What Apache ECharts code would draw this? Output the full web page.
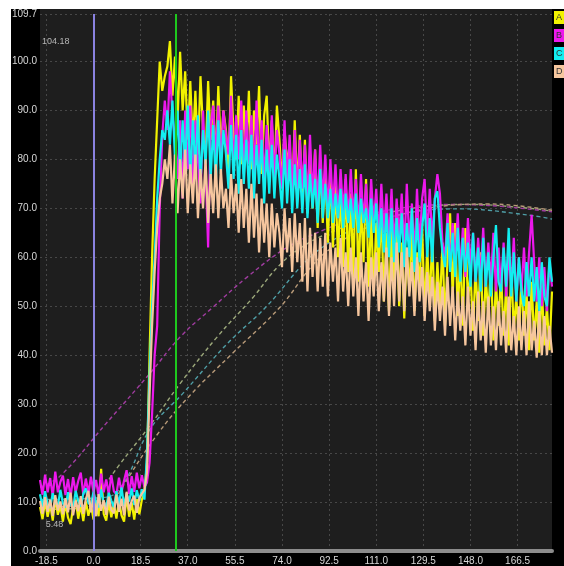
<!DOCTYPE html>
<html><head><meta charset="utf-8">
<script src="https://cdn.jsdelivr.net/npm/echarts@6/dist/echarts.min.js"></script>
<style>html,body{margin:0;padding:0;background:#fff}#c{width:564px;height:566px}</style>
</head><body><div id="c"></div>
<script>
// sampling grid of the traces
const xStart = -21, xStep = 1;
const seriesNames = ['A', 'B', 'C', 'D'];
const seriesColors = ['#f2f200', '#ec18ec', '#12eef0', '#f6c69e'];
const avgColors = ['#9ca87a', '#a03ca0', '#4f9ea6', '#b89a78'];

const valuesA = [
 9.0,6.5,10.2,7.0,9.5,6.2,10.8,7.4,9.2,6.0,
 9.8,6.8,5.48,8.9,10.5,6.6,9.4,6.1,10.1,7.2,
 9.5,6.4,10.3,7.1,16.8,7.6,6.2,10.0,6.9,9.7,
 6.6,10.4,7.3,6.0,11.2,7.0,9.9,6.4,10.6,7.5,
 10.5,12.0,18,40,60,76,88,100,94,97,
 99,104.18,93,101,88,102,90,98,84,96,
 83,94,81,97,86,80,96,84,92,79,
 95,82,90,86,78,97,85,80,93,79,
 91,81,94,78,90,83,95,77,89,93,
 78,88,76,91,84,75,86,79,83,72,
 88,74,85,71,84,69,81,70,82,66,
 79,67,78,63,77,62,75,60,74,58,
 76,57,73,56,78,55,71,59,76,54,
 69,53,67,57,70,51,65,49,66,55,
 68,50,63,47.5,62,53,66,49,61,54,
 67,48,62,51,64,47,59,50,63,46,
 60,69,52,67,48,61,46,66,51,57,
 45,58,47,61,44,56,48,59,43,55,
 46,57,44,54,42,58,45,52,43,56,
 44,53,41,55,43,51,40.5,54,42,50,
 41,53];

const valuesB = [
 14.5,11.5,15.6,12.0,14.9,11.2,16.2,12.0,14.1,15.4,
 11.4,14.7,11.0,15.1,12.0,14.3,16.0,11.5,14.8,11.8,
 15.2,12.0,14.5,11.3,15.8,12.0,14.6,11.6,15.5,12.2,
 11.6,15.0,12.0,14.4,16.5,11.6,15.3,12.1,16.0,12.8,
 15.5,13.0,14.0,18,28,40,46,70,85,92,
 86,98,89,84,76,88,72,90,78,91,
 74,88,80,71,90,78,62,87,91,80,
 91,79,90,85,81,93,78,89,80,92,
 77,90,79,89,76,92,78,88,75,87,
 77,89,76,86,81,74,88,75,85,73,
 86,72,84,74,83,71,85,72,82,70,
 83,71,81,69,80,70,79,68,78,69,
 77,67,78,68,76,66,77,67,75,65,
 76,67,74,64,75,65,73,63,74,62,
 72,64,73,61,75,63,71,60,74,62,
 72,76,64,74,63,72,77,73,63,60,
 69,58,67,59,69,57,66,56,68,58,
 65,55,64,56,66,54,63,55,65,53,
 62,54,63,52,61,54,64,51,60,53,
 62,52,61,68.7,59,51,60,50,58,49,
 59,54];

const valuesC = [
 11.6,9.0,12.2,9.5,8.8,11.8,10.0,9.2,12.5,9.7,
 8.9,12.0,9.6,8.7,12.3,10.2,9.1,11.7,12.8,9.8,
 9.3,12.1,10.0,8.9,12.6,9.7,9.0,11.9,10.3,8.9,
 12.2,9.5,13.0,9.2,11.8,10.1,12.8,9.4,12.4,10.3,
 12.6,10.5,20,36,50,60,72,80,86,84,
 90,83,92,80,90,77,88,79,91,76,
 88,78,89,75,86,79,90,76,87,75,
 88,77,86,81,74,87,76,85,73,86,
 75,84,74,85,72,83,75,84,71,82,
 73,83,72,81,76,70,82,71,80,69,
 79,70,78,69,79,68,77,70,76,67,
 78,68,75,68,74,67,73,68,74,66,
 73,67,72,66,73,65,72,67,70,64,
 72,65,71,62,70,61,69,60,70,59,
 68,61,69,58,67,60,70,57,68,59,
 66,71,60,68,59,72,73.5,66,61,58,
 67,57,65,56,66,55,64,57,63,54,
 65,55,62,53,64,54,61,52,60,66.6,
 55,53,62,54,66,52,61,51,60,53,
 50,59,52,60,51,58,49,59,52,50,
 60,55];

const valuesD = [
 10.2,7.6,11.0,8.0,10.5,7.2,11.4,8.3,10.1,7.5,
 10.8,7.9,11.9,7.3,10.3,8.1,11.2,7.6,10.6,12.3,
 7.9,10.9,7.1,11.6,8.2,10.4,7.4,11.1,8.4,7.7,
 11.5,8.0,10.7,7.3,12.1,8.3,10.2,11.3,7.8,10.8,
 11.7,12.5,16,32,46,57,66,72,75,80,
 76,83,71,81,69,80,72,82,69,79,
 71,81,68,78,70,80,67,77,69,79,
 68,78,70,74,66,77,69,75,65,76,
 66,74,63,75,64,73,61,72,63,71,
 60,71,62,69,65,58,70,61,68,57,
 69,59,67,55,68,53,66,56,65,53,
 64,54,65,52,63,55,62,51,64,53,
 61,50,62,52,60,48,61,51,59,47,
 60,52,61,49,59,51,62,48,60,50,
 63,51,61,49,62,52,59,48,60,51,
 58,47,57,49,56,45,55,47,54,44,
 56,46,54,43,53,45,52,42,54,44,
 51,41,53,43,51,40.5,52,42,50,41,
 51,42,49,40.5,52,41,48,40,50,41,
 49,40,51,41,47,39.5,49,40,48,40,
 46,40.5];

// dashed average curves [x, y]
const avgA = [[-21,8.5],[-10,8.6],[0,9.5],[4,13],[10,17.5],[22,25.5],[34,34.2],[48.5,43.7],[62.6,51.8],[73.2,58.5],[84,62.8],[95,65.5],[105,67.5],[115,69],[125,70],[135,70.6],[145,70.8],[155,70.7],[165,70.3],[175,69.8],[180,69.4]];
const avgB = [[-21,13],[-13.1,15.3],[5.2,26.2],[22.2,36.3],[34,43.7],[46.9,49.8],[60.2,55.9],[75.9,62],[90,65.5],[100,67.5],[110,69],[120,70],[130,70.6],[140,70.8],[150,70.7],[160,70.4],[170,69.9],[180,69.3]];
const avgC = [[-21,10.5],[5,11],[12,14],[22.2,24.9],[35.1,32.2],[52.4,42.3],[68,50],[84,59.5],[95,63.8],[105,66.3],[115,68],[125,69.2],[135,69.8],[145,69.9],[155,69.6],[165,69],[175,68.3],[180,67.8]];
const avgD = [[-21,9],[8,10],[10.4,12.3],[24.9,23.7],[37.9,31.8],[54.8,40.5],[73.2,49.8],[86.2,58.5],[95,62.5],[105,65.5],[115,67.8],[125,69.3],[135,70.3],[145,70.8],[155,70.9],[165,70.6],[175,70],[180,69.6]];

const xTickValues = [-18.5,0,18.5,37,55.5,74,92.5,111,129.5,148,166.5];
const xMin = -21, xMax = 180;
const yMin = 0, yMax = 109.7, yInterval = 10;
const markerX = [0, 32.4];
const markerColors = ['#8a82e0', '#1ec81e'];
const peakLabel = 104.18, lowLabel = 5.48;

const traces = [valuesA, valuesB, valuesC, valuesD];
const avgs = [avgA, avgB, avgC, avgD];
const FONT = 'Liberation Sans, Arial, sans-serif';

const series = [];
avgs.forEach((a, k) => {
  series.push({
    name: seriesNames[k] + ' avg', type: 'line', data: a, showSymbol: false, symbol: 'none',
    smooth: 0.4, z: 1, silent: true,
    lineStyle: { color: avgColors[k], width: 1.4, type: [4, 3] }
  });
});
traces.forEach((vals, k) => {
  series.push({
    name: seriesNames[k], type: 'line', showSymbol: false, symbol: 'none', z: 2, silent: true,
    data: vals.map((v, i) => [xStart + i * xStep, v]),
    lineStyle: { color: seriesColors[k], width: 2.2 },
    markLine: k === 3 ? {
      silent: true, symbol: ['none', 'none'], label: { show: false }, z: 5,
      data: markerX.map((x, j) => ({ xAxis: x, lineStyle: { color: markerColors[j], width: 2, type: 'solid' } }))
    } : undefined
  });
});
series.push({
  type: 'scatter', symbolSize: 2, itemStyle: { color: 'transparent' }, z: 6, silent: true,
  data: [[xMin, peakLabel], [xMin + 1.5, lowLabel]],
  label: {
    show: true, position: 'right', distance: 1, color: '#dcdcdc', fontSize: 9, fontFamily: FONT,
    formatter: p => p.dataIndex === 0 ? String(peakLabel) : String(lowLabel)
  }
});

const gridL = 40, gridR = 12, gridT = 14, gridB = 13;
const legendG = seriesNames.map((n, k) => ({
  type: 'group', left: 554, top: 11 + k * 18,
  children: [
    { type: 'rect', shape: { x: 0, y: 0, width: 12, height: 13 }, style: { fill: seriesColors[k] } },
    { type: 'text', x: 2, y: 2, style: { text: n, fill: '#333', font: '9px ' + FONT } }
  ]
}));

const chart = echarts.init(document.getElementById('c'), null, { renderer: 'canvas' });
chart.setOption({
  animation: false,
  backgroundColor: '#000',
  grid: { left: gridL, right: gridR, top: gridT, bottom: gridB, show: true, backgroundColor: '#1e1e1e', borderWidth: 0 },
  xAxis: {
    type: 'value', min: xMin, max: xMax,
    axisLine: { show: true, onZero: false, lineStyle: { color: '#8c8c8c', width: 4 } },
    axisTick: { show: false, customValues: xTickValues },
    axisLabel: { customValues: xTickValues, color: '#d8d8d8', fontSize: 10, fontFamily: FONT, margin: 5,
      formatter: v => v.toFixed(1) },
    splitLine: { show: true, lineStyle: { color: '#474747', width: 1, type: [2, 3] } }
  },
  yAxis: {
    type: 'value', min: yMin, max: yMax, interval: yInterval,
    axisLine: { show: false }, axisTick: { show: false },
    axisLabel: { color: '#d8d8d8', fontSize: 10, fontFamily: FONT, margin: 3, formatter: v => v.toFixed(1) },
    splitLine: { show: true, lineStyle: { color: '#474747', width: 1, type: [2, 3] } }
  },
  graphic: [
    { type: 'rect', left: 0, top: 0, shape: { width: 11, height: 566 }, style: { fill: '#fff' }, silent: true },
    { type: 'rect', left: 0, top: 0, shape: { width: 564, height: 9 }, style: { fill: '#fff' }, silent: true },
    { type: 'rect', left: gridL, top: 9, shape: { width: 564 - gridL - gridR, height: gridT - 9 }, style: { fill: '#1e1e1e' }, silent: true }
  ].concat(legendG),
  series: series
});
</script></body></html>
